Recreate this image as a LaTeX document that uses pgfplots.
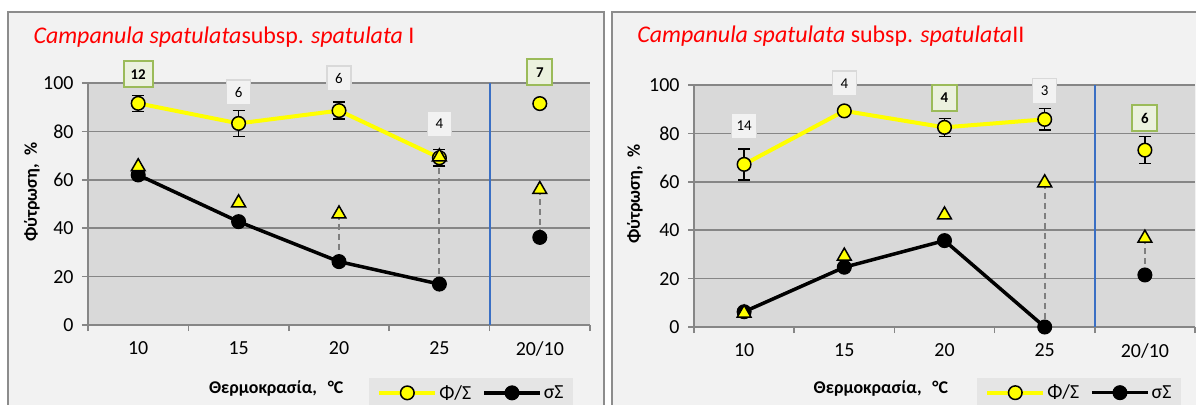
\documentclass[border=0pt]{standalone}
\usepackage{fontspec}
\setmainfont{Carlito}
\usepackage{pgfplots}
\pgfplotsset{compat=1.18}

\definecolor{panelbg}{HTML}{F2F2F2}
\definecolor{plotbg}{HTML}{D9D9D9}
\definecolor{gridc}{HTML}{868686}
\definecolor{framec}{HTML}{8C8C8C}
\definecolor{sepblue}{HTML}{3A6FC4}
\definecolor{legbg}{HTML}{E5E5E5}
\definecolor{lblgreen}{HTML}{9BBB59}
\definecolor{lblgreenfill}{HTML}{EBF1DE}
\definecolor{lblgray}{HTML}{D9D9D9}
\definecolor{dashc}{HTML}{7F7F7F}
\definecolor{yel}{HTML}{FFFF00}

\pgfplotsset{
  panel/.style={
    scale only axis, height=242bp,
    xmin=0.5, xmax=5.5, ymin=0, ymax=100,
    clip=false,
    axis background/.style={fill=plotbg},
    axis x line*=bottom, axis y line*=left,
    axis line style={-, draw=gridc, line width=1.5bp},
    tick pos=left,
    ytick={0,20,...,100}, ymajorgrids,
    grid style={gridc, line width=1.5bp},
    xtick={0.5,1.5,...,5.5}, xticklabels={},
    extra x ticks={1,2,3,4,5},
    extra x tick labels={10,15,20,25,20/10},
    extra x tick style={major tick length=0pt, grid=none},
    xticklabel style={yshift=-13bp},
    yticklabel style={xshift=-5bp},
    tick label style={font=\fontsize{20}{22}\selectfont},
    tick align=outside, major tick length=6bp,
    tick style={gridc, line width=1.5bp},
    font=\fontsize{18}{21}\selectfont,
    /pgf/number format/assume math mode=true,
    title style={anchor=base west, font=\fontsize{24}{27}\selectfont, text=red},
    xlabel={Θερμοκρασία,\hspace{0.6em}°C},
    ylabel={Φύτρωση,\hspace{0.5em}\%},
    label style={font=\bfseries\fontsize{18}{21}\selectfont, anchor=center},
    legend style={anchor=north west, fill=legbg, draw=none, legend columns=2,
      font=\fontsize{20}{22}\selectfont, inner xsep=8bp, inner ysep=5bp,
      /tikz/every even column/.append style={column sep=9bp}},
    legend image code/.code={\draw[mark repeat=2, mark phase=2, ##1]
      plot coordinates {(0bp,0bp) (28bp,0bp) (56bp,0bp)};},
  },
  yline/.style={yel, line width=4bp, mark=*, mark size=6.8bp,
    mark options={fill=yel, draw=black, line width=1.5bp}},
  kline/.style={black, line width=3.5bp, mark=*, mark size=7bp,
    mark options={fill=black, draw=black, line width=1bp}},
  tri/.style={only marks, mark=triangle*, mark size=8bp,
    mark options={fill=yel, draw=black, line width=1.5bp}},
  errs/.style={black, mark=none, forget plot, draw opacity=0,
    /pgfplots/error bars/y dir=both, /pgfplots/error bars/y explicit,
    /pgfplots/error bars/error mark=|,
    /pgfplots/error bars/error bar style={draw=black, draw opacity=1, line width=1.3bp, solid},
    /pgfplots/error bars/error mark options={draw=black, draw opacity=1, line width=1.3bp, mark size=6bp, solid}},
  dsh/.style={dashc, line width=2bp, dash pattern=on 6bp off 4bp, forget plot},
  sep/.style={sepblue, line width=2bp, forget plot},
  lblg/.style={draw=none, forget plot, nodes near coords, point meta=explicit symbolic,
    nodes near coords align={anchor=center},
    every node near coord/.style={fill=panelbg, draw=lblgray, line width=1.5bp,
      font=\fontsize{15}{17}\selectfont, text=black, inner xsep=5bp,
      minimum width=24bp, minimum height=25bp}},
  lblv/.style={draw=none, forget plot, nodes near coords, point meta=explicit symbolic,
    nodes near coords align={anchor=center},
    every node near coord/.style={fill=lblgreenfill, draw=lblgreen, line width=2bp,
      font=\bfseries\fontsize{15}{17}\selectfont, text=black, inner xsep=7bp,
      minimum width=25bp, minimum height=26bp}},
}

\begin{document}
\begin{tikzpicture}
\useasboundingbox (0,0) rectangle (1196bp,-405bp);
\clip (0,0) rectangle (1196bp,-405bp);
\fill[white] (0,0) rectangle (1196bp,-405bp);
\filldraw[fill=panelbg, draw=framec, line width=2bp] (8bp,-12bp) rectangle (604bp,-430bp);
\filldraw[fill=panelbg, draw=framec, line width=2bp] (612bp,-12bp) rectangle (1220bp,-430bp);

% panel I
\begin{axis}[panel, at={(88bp,-325bp)}, anchor=south west, width=502bp,
  title={\textit{Campanula spatulata}subsp. \textit{spatulata} I},
  title style={at={(axis description cs:-0.1155,1.14)}},
  xlabel style={at={(axis description cs:0.375,-0.264)}},
  ylabel style={at={(axis description cs:-0.1116,0.55)}},
  legend style={at={(axis description cs:0.56,-0.219)}}]
\addplot[sep] coordinates {(4.5,0) (4.5,100)};
\addplot[dsh] coordinates {(3,46) (3,26.2)};
\addplot[dsh] coordinates {(4,69) (4,16.9)};
\addplot[dsh] coordinates {(5,56) (5,36.2)};
\addplot[errs] coordinates {(1,91.6) +- (0,3.3) (2,83.3) +- (0,5.3) (3,88.6) +- (0,3.5) (4,69.1) +- (0,3.4)};
\addplot[yline] coordinates {(1,91.6) (2,83.3) (3,88.6) (4,69.1)};
\addlegendentry{Φ/Σ}
\addplot[kline] coordinates {(1,62) (2,42.7) (3,26.2) (4,16.9)};
\addlegendentry{σΣ}
\addplot[yline, only marks, forget plot] coordinates {(5,91.5)};
\addplot[kline, only marks, forget plot] coordinates {(5,36.2)};
\addplot[tri, forget plot] coordinates {(1,65.4) (2,50.5) (3,45.9) (4,69.5) (5,56)};
\addplot[lblv] coordinates {(1,103.6)[12] (5,104.4)[7]};
\addplot[lblg] coordinates {(2,96)[6] (3,101.8)[6] (4,83)[4]};
\end{axis}

% panel II
\begin{axis}[panel, at={(694bp,-327bp)}, anchor=south west, width=501bp,
  title={\textit{Campanula spatulata} subsp. \textit{spatulata}II},
  title style={at={(axis description cs:-0.12,1.149)}},
  xlabel style={at={(axis description cs:0.373,-0.256)}},
  ylabel style={at={(axis description cs:-0.118,0.55)}},
  legend style={at={(axis description cs:0.565,-0.21)}}]
\addplot[sep] coordinates {(4.5,0) (4.5,100)};
\addplot[dsh] coordinates {(4,59.6) (4,0)};
\addplot[dsh] coordinates {(5,36.7) (5,21.5)};
\addplot[errs] coordinates {(1,67.2) +- (0,6.4) (3,82.5) +- (0,3.7) (4,85.8) +- (0,4.4) (5,73.1) +- (0,5.6)};
\addplot[yline] coordinates {(1,67.2) (2,89.3) (3,82.5) (4,85.8)};
\addlegendentry{Φ/Σ}
\addplot[kline] coordinates {(1,6.3) (2,24.7) (3,35.7) (4,0)};
\addlegendentry{σΣ}
\addplot[yline, only marks, forget plot] coordinates {(5,73.1)};
\addplot[kline, only marks, forget plot] coordinates {(5,21.5)};
\addplot[tri, forget plot] coordinates {(1,5.7) (2,29.3) (3,46.3) (4,59.6) (5,36.7)};
\addplot[lblv] coordinates {(3,94.8)[4] (5,86.2)[6]};
\addplot[lblg] coordinates {(1,83)[14] (2,100.7)[4] (4,97.5)[3]};
\end{axis}
\end{tikzpicture}
\end{document}
